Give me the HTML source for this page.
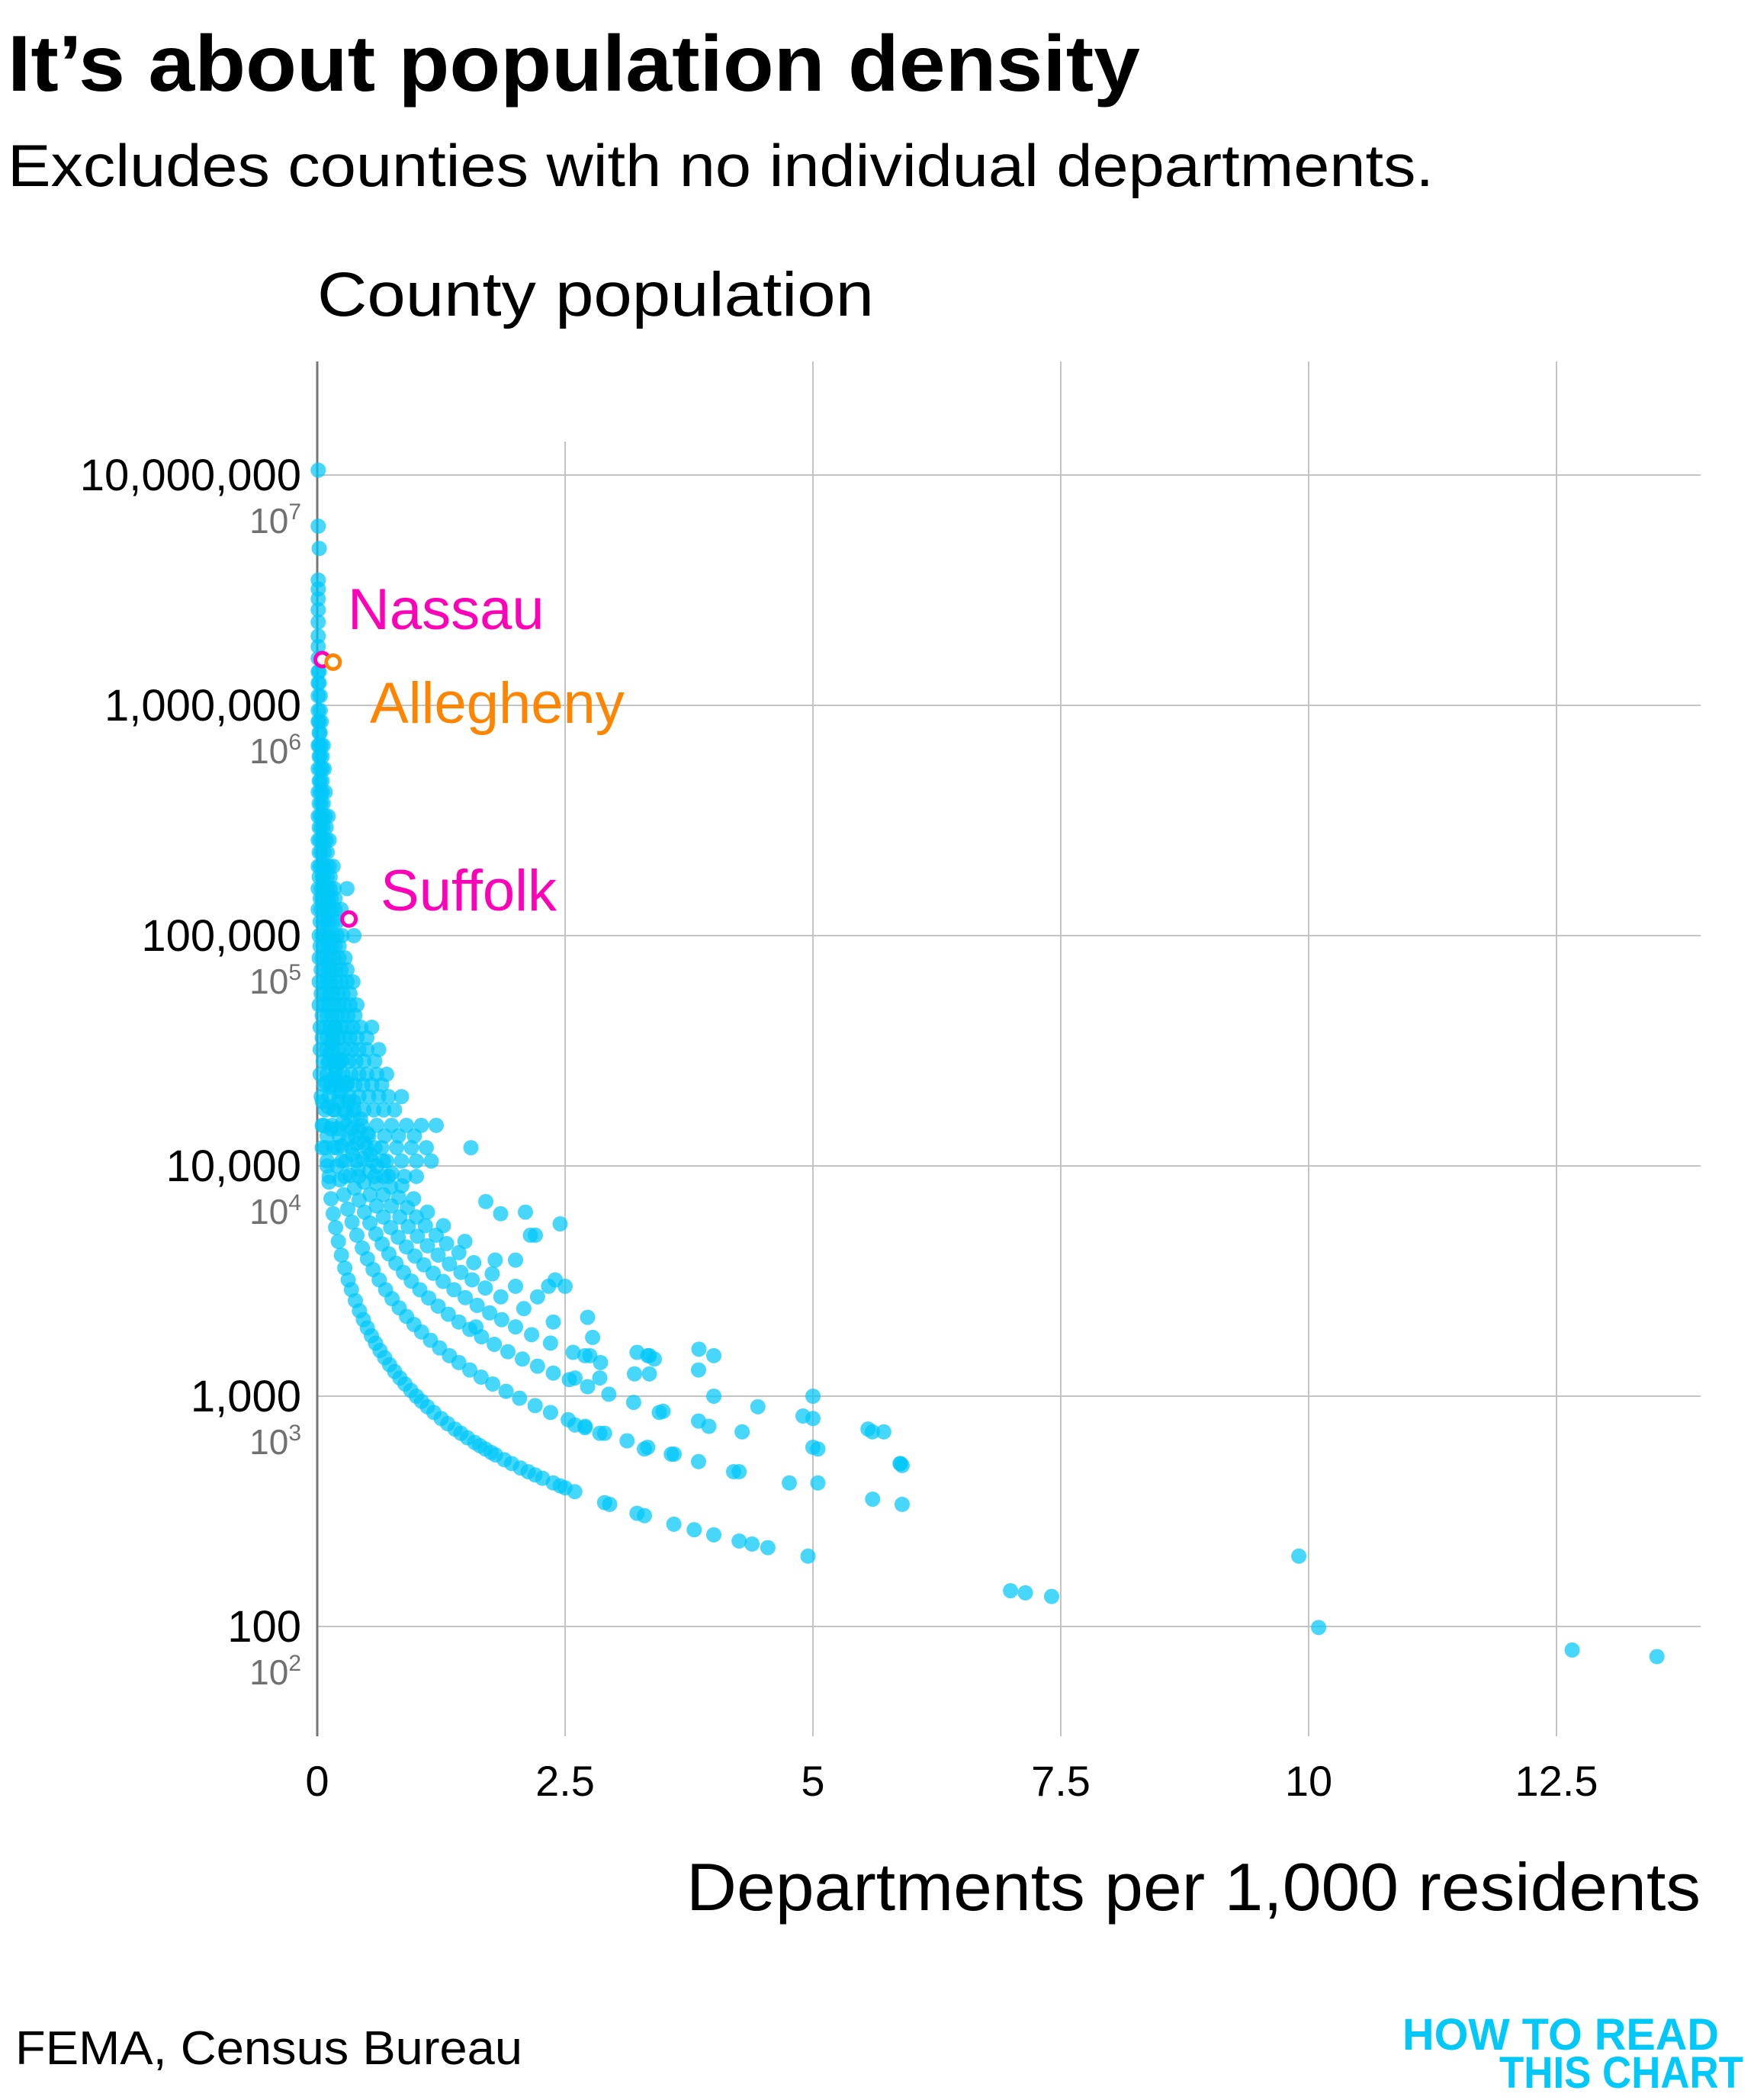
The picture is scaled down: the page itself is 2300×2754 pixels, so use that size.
<!DOCTYPE html>
<html><head><meta charset="utf-8">
<style>
html,body{margin:0;padding:0;background:#fff;}
body{width:2300px;height:2754px;position:relative;overflow:hidden;font-family:"Liberation Sans","DejaVu Sans",sans-serif;}
</style></head>
<body>
<svg id="chart" width="2300" height="2754" viewBox="0 0 2300 2754" xmlns="http://www.w3.org/2000/svg" style="position:absolute;left:0;top:0">
<text x="10" y="119" font-size="104" font-weight="bold" fill="#000" font-family="Liberation Sans, sans-serif" textLength="1485" lengthAdjust="spacingAndGlyphs">It’s about population density</text>
<text x="10" y="244" font-size="78" fill="#000" font-family="Liberation Sans, sans-serif" textLength="1870" lengthAdjust="spacingAndGlyphs">Excludes counties with no individual departments.</text>
<text x="416" y="414" font-size="82" fill="#000" font-family="Liberation Sans, sans-serif" textLength="730" lengthAdjust="spacingAndGlyphs">County population</text>
<g id="grid"></g>
<g id="dots"></g>
<g id="ann"></g>
<text x="2230" y="2505" text-anchor="end" font-size="88" fill="#000" font-family="Liberation Sans, sans-serif" textLength="1330" lengthAdjust="spacingAndGlyphs">Departments per 1,000 residents</text>
<text x="20" y="2707" font-size="62" fill="#000" font-family="Liberation Sans, sans-serif" textLength="665" lengthAdjust="spacingAndGlyphs">FEMA, Census Bureau</text>
<g font-family="Liberation Sans, sans-serif" font-weight="bold" fill="#00c8f8" font-size="58" text-anchor="end">
<text x="2254" y="2688" textLength="415" lengthAdjust="spacingAndGlyphs">HOW TO READ</text>
<text x="2286" y="2738" textLength="320" lengthAdjust="spacingAndGlyphs">THIS CHART</text>
</g>
</svg>
<script>
const xTicks=[0,2.5,5,7.5,10,12.5];
const xTickLabels=["0","2.5","5","7.5","10","12.5"];
const yTicks=[2,3,4,5,6,7];
const yTickLabels=["100","1,000","10,000","100,000","1,000,000","10,000,000"];
const yExpLabels=["2","3","4","5","6","7"];
const popD1=[74,79,99,135,140,143,202,220,228,235,250,263,278,303,310,339,345,385,400,408,420,440,455,470,488,510,530,556,570,590,610,630,660,690,720,760,800,850,900,950,1000,1060,1130,1200,1280,1370,1470,1580,1700,1830,1980,2150,2350,2600,2900,3200,3600,4100,4700,5400,6200,7200,8500,10000,12000,15000,19000];
const popD2=[202,339,357,420,470,520,560,600,640,690,740,790,850,910,980,1050,1130,1210,1300,1400,1500,1620,1750,1900,2050,2220,2420,2650,2900,3200,3550,3950,4400,5000,5700,6500,7500,8700,10000,12000,14500,18000,23000];
const popD3=[510,600,700,780,860,940,1020,1100,1180,1260,1350,1450,1560,1680,1810,1950,2100,2270,2460,2670,2900,3160,3450,3780,4150,4580,5070,5650,6300,7100,8000,9100,10500,12200,14500,17500,22000,28000];
const popD4=[700,720,800,900,1000,1250,1400,1550,1700,1850,2000,2150,2300,2480,2680,2900,3150,3420,3720,4060,4450,4900,5400,6000,6700,7500,8500,9700,11200,13000,15500,19000,24000,31000];
const popD5=[1000,1300,1500,1550,1800,2100,2400,2700,2950,3200,3450,3750,4100,4500,4950,5450,6000,6700,7500,8400,9500,10800,12500,14500,17000,21000,26000,34000];
const popD6=[1500,2200,2700,3000,3400,3800,4200,4600,5000,5500,6000,6600,7300,8100,9000,10000,11200,12600,14300,16500,19000,23000,28000,37000];
const popD7=[3000,3900,4700,5500,6300,7200,8200,9300,10500,12000,13800,16000,19000,23000,29000,40000];
const cloudPop=[12000,15000,20000,25000,32000,40000,50000,63000,80000,100000,130000,160000,200000,260000,330000,420000,530000,670000,850000,1100000,1400000,1800000,2300000,2900000,3500000,4800000,6000000,10500000];
const cloudX=[
[0.05,0.2,0.35,0.5,0.65,0.8,0.95,1.1],
[0.05,0.15,0.3,0.45,0.6,0.75,0.9,1.05,1.2],
[0.04,0.12,0.22,0.32,0.42,0.52,0.62,0.72,0.85],
[0.03,0.1,0.18,0.26,0.34,0.42,0.5,0.6,0.7],
[0.03,0.09,0.15,0.21,0.28,0.35,0.42,0.5,0.62],
[0.03,0.08,0.13,0.18,0.24,0.3,0.36,0.44,0.55],
[0.02,0.07,0.12,0.17,0.22,0.27,0.33,0.4],
[0.02,0.06,0.1,0.14,0.19,0.24,0.3,0.36],
[0.02,0.05,0.09,0.13,0.17,0.22,0.28],
[0.02,0.05,0.08,0.12,0.16,0.2,0.25,0.37],
[0.01,0.04,0.07,0.1,0.14,0.18,0.24],
[0.01,0.04,0.07,0.1,0.13,0.17,0.3],
[0.01,0.03,0.06,0.09,0.12,0.16],
[0.01,0.03,0.06,0.09,0.12],
[0.01,0.03,0.05,0.08,0.11],
[0.01,0.03,0.05,0.08],
[0.01,0.03,0.05,0.07],
[0.01,0.02,0.04,0.06],
[0.01,0.02,0.04],
[0.01,0.03],[0.01,0.02],[0.01],[0.01],[0.01],[0.01],[0.02],[0.01],[0.01]];
const cloudPopB=[9000,10500,13500,17500,22500,28500,36000,45000,56000,71000,90000,115000,145000,180000,230000,295000,375000,470000,600000,760000,950000,1250000,1600000,2000000,2600000,3200000];
const cloudXB=[
[0.12,0.28,0.42,0.58,0.72,0.88,1.0],
[0.1,0.25,0.4,0.55,0.7,0.85,1.0,1.15],
[0.1,0.22,0.38,0.52,0.68,0.82,0.98],
[0.08,0.17,0.27,0.37,0.47,0.57,0.67,0.78],
[0.07,0.14,0.22,0.3,0.38,0.46,0.55,0.65],
[0.06,0.12,0.18,0.25,0.32,0.39,0.47,0.58],
[0.05,0.1,0.16,0.21,0.27,0.33,0.4,0.5],
[0.05,0.1,0.15,0.2,0.25,0.31,0.38],
[0.04,0.08,0.12,0.16,0.21,0.26,0.33],
[0.04,0.07,0.11,0.15,0.19,0.24,0.3],
[0.03,0.06,0.1,0.14,0.18,0.22],
[0.03,0.06,0.09,0.12,0.16,0.2],
[0.03,0.05,0.08,0.11,0.14,0.18],
[0.02,0.05,0.07,0.1,0.13],
[0.02,0.04,0.07,0.1],
[0.02,0.04,0.06,0.09],
[0.02,0.04,0.06],
[0.02,0.03,0.05],
[0.02,0.03,0.05],
[0.02,0.03],
[0.01,0.03],
[0.01,0.02],
[0.01],[0.01],[0.01],[0.01]];
const outX=[1.55,1.7,2.1,2.45,1.85,2.4,2.5,2.2,2.15,3.35,3.4,3.85,3.35,2.7,2.75,2.6,2.85,4.9,5.6,5.05,3.95,3.45,3.6,3.3,4.2,5.05,5.9,5.88,2.6,2.7,2.85,2.0,1.6];
const outPop=[12000,7000,6300,5600,6200,3200,3000,5000,5000,1500,1450,1600,1250,1500,1500,1200,1200,820,700,590,740,850,560,590,470,420,500,510,750,730,690,3900,2000];
const labels=[{name:"Nassau",x:0.05,pop:1580000,color:"#ff00b8",lx:456,ly:825},{name:"Allegheny",x:0.16,pop:1540000,color:"#ff8400",lx:485,ly:948},{name:"Suffolk",x:0.32,pop:118000,color:"#ff00b8",lx:499,ly:1194}];

const X0=416,XU=130,Y7=623,YD=302,RIGHT=2230,TOP=474,BOT=2277;
function sx(v){return X0+v*XU;}
function sy(p){return Y7+(7-Math.log10(p))*YD;}
const NS="http://www.w3.org/2000/svg";
function el(tag,attrs,parent){const e=document.createElementNS(NS,tag);for(const k in attrs)e.setAttribute(k,attrs[k]);parent.appendChild(e);return e;}
const grid=document.getElementById('grid'),dots=document.getElementById('dots'),ann=document.getElementById('ann');

yTicks.forEach((t,i)=>{
  const y=Y7+(7-t)*YD;
  const l=el('line',{x1:X0,x2:RIGHT,y1:y,y2:y,stroke:"#c4c4c4","stroke-width":2},grid);
  
  
  const tx=el('text',{x:395,y:y+20,"text-anchor":"end","font-size":58,fill:"#000","font-family":"Liberation Sans, sans-serif"},grid);
  
  
  tx.textContent=yTickLabels[i];
  const ex=el('text',{x:395,y:y+76,"text-anchor":"end","font-size":46,fill:"#707070","font-family":"Liberation Sans, sans-serif"},grid);
  
  
  ex.textContent="10";
  const sp=el('tspan',{dy:-18,"font-size":30},ex);
  sp.textContent=yExpLabels[i];
});
xTicks.forEach((t,i)=>{
  const x=sx(t);
  const l=el('line',{x1:x,x2:x,y1:(t===2.5?579:TOP),y2:BOT,stroke:t===0?"#777":"#c4c4c4","stroke-width":t===0?3:2},grid);
  
  
  const tx=el('text',{x:x,y:2355,"text-anchor":"middle","font-size":56,fill:"#000","font-family":"Liberation Sans, sans-serif"},grid);
  
  
  tx.textContent=xTickLabels[i];
});
function dot(x,p){
  const c=el('circle',{cx:sx(x),cy:sy(p),r:10,fill:"#00c8f8","fill-opacity":0.72},dots);
  
  
}
[[1,popD1],[2,popD2],[3,popD3],[4,popD4],[5,popD5],[6,popD6],[7,popD7]].forEach(([d,arr])=>arr.forEach(p=>dot(d*1000/p,p)));
cloudPop.forEach((p,i)=>cloudX[i].forEach(x=>dot(x,p)));
cloudPopB.forEach((p,i)=>cloudXB[i].forEach(x=>dot(x,p)));
outX.forEach((x,i)=>dot(x,outPop[i]));
labels.forEach(o=>{
  const c=el('circle',{cx:sx(o.x),cy:sy(o.pop),r:9,fill:"#fff",stroke:o.color,"stroke-width":5},ann);
  
  
  const t=el('text',{x:o.lx,y:o.ly,"font-size":76,fill:o.color,"font-family":"Liberation Sans, sans-serif"},ann);
  
  
  t.textContent=o.name;
});
</script>
</body></html>
